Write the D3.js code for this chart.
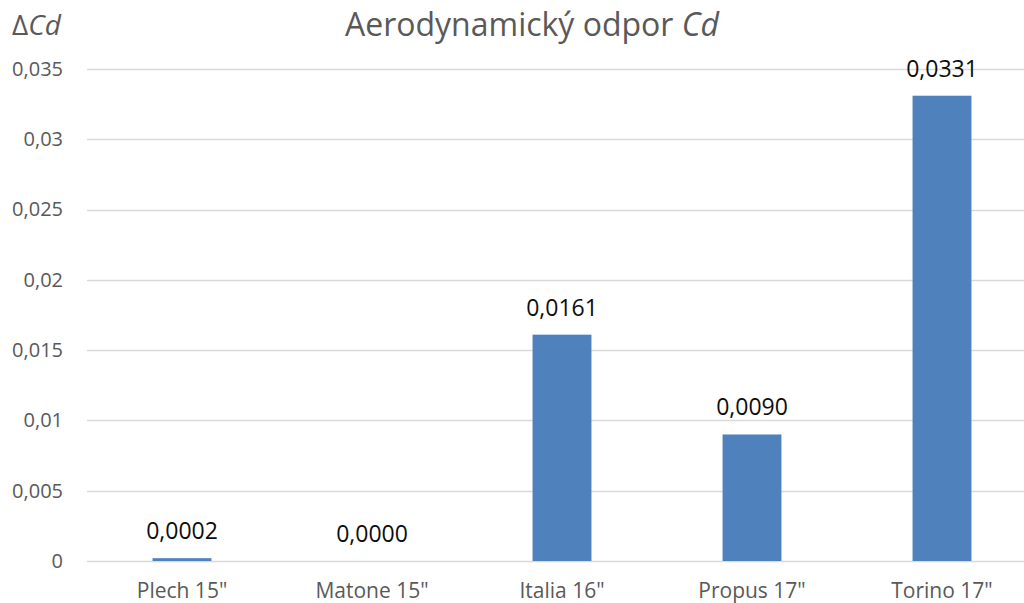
<!DOCTYPE html>
<html>
<head>
<meta charset="utf-8">
<script src="https://cdn.jsdelivr.net/npm/d3@7"></script>
<style>
  body { margin: 0; background: #fff; }
  svg { display: block; font-family: "Open Sans", sans-serif; }
</style>
</head>
<body>
<div id="chart"></div>
<script>
const categories = ['Plech 15"', 'Matone 15"', 'Italia 16"', 'Propus 17"', 'Torino 17"'];
const values = [0.0002, 0.0000, 0.0161, 0.0090, 0.0331];
const valueLabels = ['0,0002', '0,0000', '0,0161', '0,0090', '0,0331'];
const yTicks = [0, 0.005, 0.01, 0.015, 0.02, 0.025, 0.03, 0.035];
const yTickLabels = ['0', '0,005', '0,01', '0,015', '0,02', '0,025', '0,03', '0,035'];

const width = 1024;
const height = 603;
const margin = { top: 69, right: -13, bottom: 42, left: 87 };

const svg = d3.select('#chart')
  .append('svg')
  .attr('width', width)
  .attr('height', height);

const x = d3.scaleBand()
  .domain(categories)
  .range([margin.left, width - margin.right])
  .paddingInner(0.69)
  .paddingOuter(0.345);

const y = d3.scaleLinear()
  .domain([0, 0.035])
  .range([height - margin.bottom, margin.top]);

// gridlines
svg.append('g')
  .selectAll('line')
  .data(yTicks)
  .join('line')
  .attr('x1', margin.left)
  .attr('x2', width)
  .attr('y1', d => Math.round(y(d)) + 0.5)
  .attr('y2', d => Math.round(y(d)) + 0.5)
  .attr('stroke', '#d9d9d9')
  .attr('stroke-width', 1.5);

// y axis labels
const yAxis = d3.axisLeft(y)
  .tickValues(yTicks)
  .tickFormat((d, i) => yTickLabels[i])
  .tickSize(0)
  .tickPadding(24);

svg.append('g')
  .attr('transform', `translate(${margin.left}, 0)`)
  .call(yAxis)
  .call(g => g.select('.domain').remove())
  .call(g => g.selectAll('text')
    .attr('fill', '#595959')
    .style('font-size', '20px')
    .style('font-family', '"Open Sans", sans-serif'));

// bars
svg.append('g')
  .selectAll('rect')
  .data(values)
  .join('rect')
  .attr('x', (d, i) => x(categories[i]))
  .attr('width', x.bandwidth())
  .attr('y', d => y(d))
  .attr('height', d => y(0) - y(d))
  .attr('fill', '#4f81bd');

// value labels
svg.append('g')
  .selectAll('text')
  .data(values)
  .join('text')
  .attr('x', (d, i) => x(categories[i]) + x.bandwidth() / 2)
  .attr('y', d => y(d) - 19)
  .attr('text-anchor', 'middle')
  .attr('fill', '#0d0d0d')
  .style('font-size', '23px')
  .text((d, i) => valueLabels[i]);

// x axis labels
const xAxis = d3.axisBottom(x).tickSize(0).tickPadding(22);

svg.append('g')
  .attr('transform', `translate(0, ${y(0)})`)
  .call(xAxis)
  .call(g => g.select('.domain').remove())
  .call(g => g.selectAll('text')
    .attr('fill', '#595959')
    .style('font-size', '21px')
    .style('font-family', '"Open Sans", sans-serif'));

// title
const title = svg.append('text')
  .attr('x', 532)
  .attr('y', 36)
  .attr('text-anchor', 'middle')
  .attr('fill', '#595959')
  .style('font-size', '32px');
title.append('tspan').text('Aerodynamický odpor ');
title.append('tspan').style('font-style', 'italic').text('Cd');

// y axis title
const yTitle = svg.append('text')
  .attr('x', 12)
  .attr('y', 35)
  .attr('fill', '#595959')
  .style('font-size', '28px');
yTitle.append('tspan').text('Δ');
yTitle.append('tspan').style('font-style', 'italic').text('Cd');
</script>
</body>
</html>
